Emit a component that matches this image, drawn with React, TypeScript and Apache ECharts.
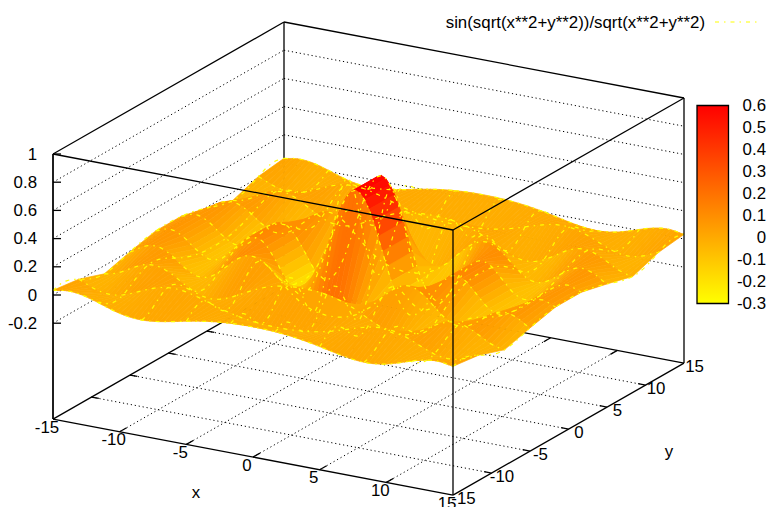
import React, { useEffect, useRef } from "react";
import * as echarts from "echarts";

// Surface heights along x = 0..15 for each |y| isoline (the surface is mirrored about x = 0 and y = 0)
const zAtY1_67 = [0.597, 0.479, 0.197, -0.0834, -0.2144, -0.161, -0.009, 0.11, 0.116, 0.0293, -0.0645, -0.0891, -0.036, 0.0392, 0.0709, 0.0383];
const zAtY5 = [-0.1918, -0.1816, -0.1453, -0.0749, 0.0187, 0.1002, 0.1279, 0.0852, -0.001, -0.0743, -0.0879, -0.0384, 0.0323, 0.0702, 0.0502, -0.0065];
const zAtY8_33 = [0.1065, 0.1023, 0.088, 0.0607, 0.0195, -0.0297, -0.0728, -0.0913, -0.0735, -0.0242, 0.0335, 0.0684, 0.0609, 0.017, -0.0338, -0.0579];
const zAtY11_67 = [-0.0671, -0.0645, -0.0563, -0.0412, -0.0187, 0.01, 0.04, 0.0634, 0.0707, 0.0561, 0.0218, -0.02, -0.0512, -0.0562, -0.0322, 0.008];
const zAtY15 = [0.0434, 0.0416, 0.0359, 0.0261, 0.0118, -0.0065, -0.0268, -0.0452, -0.0566, -0.0559, -0.0406, -0.0132, 0.0183, 0.0424, 0.0485, 0.0331];
const isoProfiles = [zAtY15, zAtY11_67, zAtY8_33, zAtY5, zAtY1_67, zAtY1_67, zAtY5, zAtY8_33, zAtY11_67, zAtY15];
const isoCoords = [-15, -11.667, -8.333, -5, -1.667, 1.667, 5, 8.333, 11.667, 15];

const xTicks = [-15, -10, -5, 0, 5, 10, 15];
const yTicks = [-15, -10, -5, 0, 5, 10, 15];
const zTicks = [-0.2, 0, 0.2, 0.4, 0.6, 0.8, 1];
const legendName = "sin(sqrt(x**2+y**2))/sqrt(x**2+y**2)";

const FONT = "Liberation Sans";
const FS = 16.85;
const SUB = 3; // drawn segments per unit of x, smooth like a line series' smooth option
const ISO_DASH = [4, 5, 1.5, 5];
const DOT = [1.2, 2.8];
const SOLID_W = 1.3;

// view of the 3D box on the page
const project = (x: number, y: number, z: number): number[] => {
  const u = (x + 15) / 30;
  const v = (y + 15) / 30;
  return [53 + 400 * u + 231 * v, 295 + 76 * u - 132 * v - 141 * z];
};
const Z_BASE = -0.88;
const Z_TOP = 1;

const mirrored = (half: number[]) => [...half.slice(1).reverse(), ...half];
const smoothed = (pts: number[]) => {
  const out: number[] = [];
  for (let i = 0; i < pts.length - 1; i++) {
    const p0 = pts[Math.max(i - 1, 0)];
    const p1 = pts[i];
    const p2 = pts[i + 1];
    const p3 = pts[Math.min(i + 2, pts.length - 1)];
    for (let k = 0; k < SUB; k++) {
      const t = k / SUB;
      out.push(
        0.5 * (2 * p1 + (p2 - p0) * t + (2 * p0 - 5 * p1 + 4 * p2 - p3) * t * t + (3 * p1 - p0 - 3 * p2 + p3) * t * t * t)
      );
    }
  }
  out.push(pts[pts.length - 1]);
  return out;
};
const rows = isoProfiles.map((p) => smoothed(mirrored(p)));
const N = rows[0].length;
const fine = (t: number) => -15 + t / SUB;

const paletteColor = (z: number) => {
  const f = Math.min(1, Math.max(0, (z + 0.3) / 0.9));
  return `rgb(255,${Math.round(255 * (1 - f))},0)`;
};

type Seg = { a: number[]; b: number[]; dash?: number[] };
const line3 = (a: number[], b: number[], dash?: number[]): Seg => ({
  a: project(a[0], a[1], a[2]),
  b: project(b[0], b[1], b[2]),
  dash,
});

const B = Z_BASE;
const T = Z_TOP;
const backSegs: Seg[] = [
  line3([-15, -15, B], [15, -15, B]),
  line3([15, -15, B], [15, 15, B]),
  line3([15, 15, B], [-15, 15, B]),
  line3([-15, 15, B], [-15, -15, B]),
  line3([-15, -15, T], [-15, 15, T]),
  line3([-15, 15, T], [15, 15, T]),
  line3([-15, 15, B], [-15, 15, T]),
  line3([-15, -15, B], [-15, -15, T]),
];
xTicks.slice(1, -1).forEach((x) => {
  backSegs.push(line3([x, -15, B], [x, 15, B], DOT));
  backSegs.push(line3([x, -15, B], [x, -14.1, B]));
  backSegs.push(line3([x, 15, B], [x, 14.1, B]));
});
yTicks.slice(1, -1).forEach((y) => {
  backSegs.push(line3([-15, y, B], [15, y, B], DOT));
  backSegs.push(line3([-15, y, B], [-14.45, y, B]));
  backSegs.push(line3([15, y, B], [14.45, y, B]));
});
zTicks.forEach((z) => {
  if (z < 1) {
    backSegs.push(line3([-15, -15, z], [-15, 15, z], DOT));
    backSegs.push(line3([-15, 15, z], [15, 15, z], DOT));
  }
  const p = project(-15, -15, z);
  backSegs.push({ a: p, b: [p[0] + 8, p[1]] });
});
const frontSegs: Seg[] = [
  line3([-15, -15, T], [15, -15, T]),
  line3([15, -15, T], [15, 15, T]),
  line3([15, -15, B], [15, -15, T]),
  line3([15, 15, B], [15, 15, T]),
  line3([-15, -15, B], [-15, -15, T]),
];

type Lbl = { p: number[]; s: string; align?: string };
const labels: Lbl[] = [];
xTicks.forEach((x) => {
  const p = project(x, -15, B);
  labels.push({ p: [p[0] - 6, p[1] + 8], s: String(x) });
});
yTicks.forEach((y) => {
  const p = project(15, y, B);
  labels.push({ p: [p[0] + 10.5, p[1] + 3.5], s: String(y) });
});
zTicks.forEach((z) => {
  const p = project(-15, -15, z);
  labels.push({ p: [37, p[1]], s: String(z), align: "right" });
});
labels.push({ p: [196, 492], s: "x" }, { p: [669, 451], s: "y" });
labels.push({ p: [705, 22], s: legendName, align: "right" });

const quads: number[][] = [];
for (let j = 9; j > 0; j--) for (let t = 0; t < N - 1; t++) quads.push([j, t]);
const isoLines: number[][] = [];
for (let j = 0; j < 10; j++) {
  isoLines.push([0, j]);
  isoLines.push([1, j]);
}

const lineEl = (s: Seg, api: any) => {
  const a = api.coord(s.a);
  const b = api.coord(s.b);
  return {
    type: "line",
    shape: { x1: a[0], y1: a[1], x2: b[0], y2: b[1] },
    style: { stroke: "#000", lineWidth: s.dash ? 1 : SOLID_W, lineDash: s.dash || undefined, fill: null },
  };
};

const segSeries = (segs: Seg[]) => ({
  type: "custom",
  silent: true,
  clip: false,
  coordinateSystem: "cartesian2d",
  xAxisIndex: 0,
  yAxisIndex: 0,
  data: segs.map((_, i) => [i]),
  encode: { x: 0, y: 0 },
  renderItem: (_: any, api: any) => lineEl(segs[api.value(0)], api),
});

export default function App() {
  const ref = useRef<HTMLDivElement>(null);
  useEffect(() => {
    document.body.style.margin = "0";
    const chart = echarts.init(ref.current!, undefined, { renderer: "svg" });
    chart.setOption({
      animation: false,
      grid: [
        { left: 0, top: 0, width: 769, height: 507 },
        { left: 697, top: 105.5, width: 31.5, height: 198 },
      ],
      xAxis: [
        { type: "value", gridIndex: 0, min: 0, max: 769, show: false },
        { type: "category", gridIndex: 1, data: ["cb"], show: false },
      ],
      yAxis: [
        { type: "value", gridIndex: 0, min: 0, max: 507, inverse: true, show: false },
        {
          type: "value",
          gridIndex: 1,
          position: "right",
          min: -0.3,
          max: 0.6,
          interval: 0.1,
          splitLine: { show: false },
          axisLine: { show: false },
          axisTick: { inside: true, length: 8, lineStyle: { color: "#000", opacity: 0.7 } },
          axisLabel: {
            align: "right",
            margin: 37.5,
            color: "#000",
            fontFamily: FONT,
            fontSize: FS,
            formatter: (v: number) => String(Math.round(v * 10) / 10),
          },
        },
        {
          type: "value",
          gridIndex: 1,
          position: "left",
          min: -0.3,
          max: 0.6,
          interval: 0.1,
          splitLine: { show: false },
          axisLine: { show: false },
          axisLabel: { show: false },
          axisTick: { inside: true, length: 8, lineStyle: { color: "#000", opacity: 0.7 } },
        },
      ],
      series: [
        // colour box
        {
          type: "custom",
          silent: true,
          clip: false,
          z: -1,
          xAxisIndex: 1,
          yAxisIndex: 1,
          data: [["cb", -0.3, 0.6]],
          encode: { x: 0, y: [1, 2] },
          renderItem: (params: any, api: any) => {
            const lo = api.coord(["cb", api.value(1)]);
            const hi = api.coord(["cb", api.value(2)]);
            const g = params.coordSys;
            return {
              type: "rect",
              shape: { x: g.x, y: hi[1], width: g.width, height: lo[1] - hi[1] },
              style: {
                stroke: "#000",
                lineWidth: SOLID_W,
                fill: new echarts.graphic.LinearGradient(0, 0, 0, 1, [
                  { offset: 0, color: "rgb(255,0,0)" },
                  { offset: 1, color: "rgb(255,255,0)" },
                ]),
              },
            };
          },
        },
        segSeries(backSegs),
        // pm3d surface: strips between adjacent y isolines, painted back to front
        {
          type: "custom",
          silent: true,
          clip: false,
          progressive: 0,
          xAxisIndex: 0,
          yAxisIndex: 0,
          data: quads,
          encode: { x: 0, y: 1 },
          renderItem: (_: any, api: any) => {
            const j = api.value(0);
            const t = api.value(1);
            const y0 = isoCoords[j - 1];
            const y1 = isoCoords[j];
            const x0 = fine(t);
            const x1 = fine(t + 1);
            const z00 = rows[j - 1][t];
            const z01 = rows[j - 1][t + 1];
            const z10 = rows[j][t];
            const z11 = rows[j][t + 1];
            const pts = [
              project(x0, y0, z00),
              project(x1, y0, z01),
              project(x1, y1, z11),
              project(x0, y1, z10),
            ].map((p) => api.coord(p));
            const c = paletteColor((z00 + z01 + z10 + z11) / 4);
            return { type: "polygon", shape: { points: pts }, style: { fill: c, stroke: c, lineWidth: 0.7 } };
          },
        },
        // dashed isolines
        {
          type: "custom",
          silent: true,
          clip: false,
          xAxisIndex: 0,
          yAxisIndex: 0,
          data: isoLines,
          encode: { x: 0, y: 1 },
          renderItem: (_: any, api: any) => {
            const kind = api.value(0);
            const j = api.value(1);
            const pts = rows[j].map((z, t) =>
              api.coord(kind === 0 ? project(fine(t), isoCoords[j], z) : project(isoCoords[j], fine(t), z))
            );
            return {
              type: "polyline",
              shape: { points: pts },
              style: { stroke: "#ffff00", lineWidth: 1.2, lineDash: ISO_DASH, fill: null },
            };
          },
        },
        segSeries(frontSegs),
        // legend sample
        {
          type: "custom",
          silent: true,
          clip: false,
          xAxisIndex: 0,
          yAxisIndex: 0,
          data: [[0]],
          encode: { x: 0, y: 0 },
          renderItem: (_: any, api: any) => {
            const a = api.coord([715, 22]);
            const b = api.coord([761, 22]);
            return {
              type: "line",
              shape: { x1: a[0], y1: a[1], x2: b[0], y2: b[1] },
              style: { stroke: "#ffff00", lineWidth: 1.2, lineDash: ISO_DASH, fill: null },
            };
          },
        },
        // all the texts
        {
          type: "custom",
          silent: true,
          clip: false,
          xAxisIndex: 0,
          yAxisIndex: 0,
          data: labels.map((_, i) => [i]),
          encode: { x: 0, y: 0 },
          renderItem: (_: any, api: any) => {
            const l = labels[api.value(0)];
            const p = api.coord(l.p);
            return {
              type: "text",
              x: p[0],
              y: p[1],
              style: {
                text: l.s,
                fill: "#000",
                font: `${FS}px "${FONT}"`,
                align: l.align || "center",
                verticalAlign: "middle",
              },
            };
          },
        },
      ],
    });
    return () => chart.dispose();
  }, []);
  return <div ref={ref} style={{ width: 769, height: 507 }} />;
}
